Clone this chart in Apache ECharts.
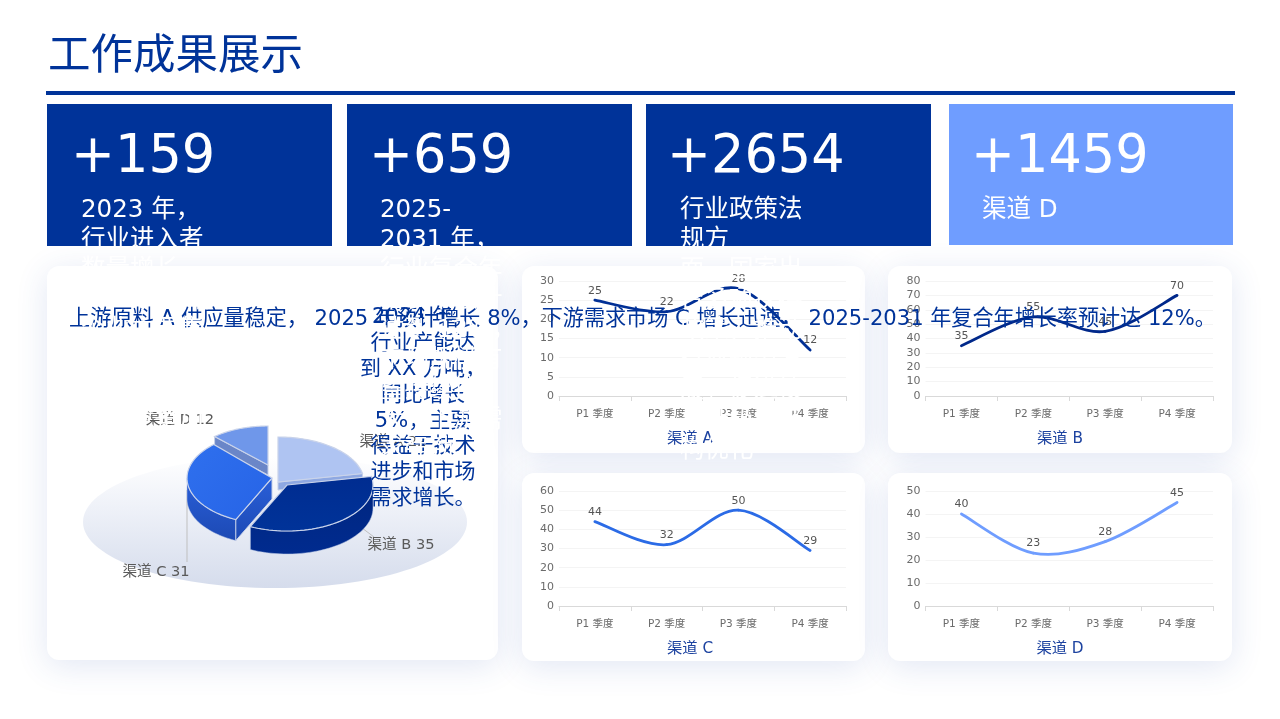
<!DOCTYPE html>
<html><head><meta charset="utf-8">
<script src="https://cdn.jsdelivr.net/npm/echarts@6/dist/echarts.min.js"></script>
<style>html,body{margin:0;padding:0;background:#fff}#c{width:1280px;height:719px}</style>
</head><body><div id="c"></div>
<script>
var FONT='"DejaVu Sans","Noto Sans CJK SC",sans-serif';
var quarters=['P1 季度','P2 季度','P3 季度','P4 季度'];
var channelNames=['渠道 A','渠道 B','渠道 C','渠道 D'];
var valuesA=[25,22,28,12];
var valuesB=[35,55,45,70];
var valuesC=[44,32,50,29];
var valuesD=[40,23,28,45];
var pieValues=[22,35,31,12];
var axisMax=[30,80,60,50];
var axisStep=[5,10,10,10];
var kpiNumbers=['+159','+659','+2654','+1459'];
var kpiText1=['2023 年，','行业进入者','数量增长','XX%，新增','企业主要集','中在华东和','华南地区，','市场竞争加','剧。'];
var kpiText2=['2025-','2031 年，','行业复合年','增长率预计','达到 12%，','市场规模有','望持续扩','大，下游需','求强劲。'];
var kpiText3=['行业政策法','规方','面，国家出','台多项扶持','政策，推动','行业规范发','展，促进技','术升级和产','构优化'];
var kpiText4=['渠道 D'];
var summaryWide='上游原料 A 供应量稳定， 2025 年预计增长 8%，下游需求市场 C 增长迅速， 2025-2031 年复合年增长率预计达 12%。';
var summaryLines=['2024 年，','行业产能达','到 XX 万吨，','同比增长','5%，主要','得益于技术','进步和市场','需求增长。'];

var BLUE='#003399', LIGHT='#6f9dff';
var lineColors=['#002f95','#00288a','#2b6be6','#6f9dff'];
var allValues=[valuesA,valuesB,valuesC,valuesD];
var gridBoxes=[[559,281,287,115],[925.5,281,287.5,115],[559,491,287,115],[925.5,491,287.5,115]];
var panels=[[47,266,451,394],[522,266,343,187],[888,266,344,187],[522,473,343,188],[888,473,344,188]];
var cards=[[47,104,285,142,BLUE],[347,104,285,142,BLUE],[646,104,285,142,BLUE],[949,104,284,141,LIGHT]];
var numX=[71,369,667,971], txtX=[81,380,680,982];
var kpiTexts=[kpiText1,kpiText2,kpiText3,kpiText4];
var chartTitleAt=[[690,439],[1060,439],[690,649],[1060,649]];

var g=[];
g.push({type:'rect',z:-1,shape:{x:46,y:91,width:1189,height:4},style:{fill:BLUE}});
panels.forEach(function(p){g.push({type:'rect',z:-1,shape:{x:p[0],y:p[1],width:p[2],height:p[3],r:12},
  style:{fill:'#fff',shadowBlur:32,shadowOffsetY:6,shadowColor:'rgba(50,85,175,0.14)'}});});
g.push({type:'ellipse',z:-1,shape:{cx:275,cy:522,rx:192,ry:66},style:{fill:{type:'linear',x:0,y:0,x2:0,y2:1,
  colorStops:[{offset:0,color:'#ffffff'},{offset:0.4,color:'#eef1f8'},{offset:1,color:'#d5dcec'}]}}});
g.push({type:'text',z:100,x:48,y:58,style:{text:'工作成果展示',font:'42.5px '+FONT,fill:BLUE,textVerticalAlign:'middle'}});
cards.forEach(function(c,i){
  g.push({type:'rect',z:1,shape:{x:c[0],y:c[1],width:c[2],height:c[3]},style:{fill:c[4]}});
  g.push({type:'text',z:101,x:numX[i],y:158,style:{text:kpiNumbers[i],font:'52.5px '+FONT,fill:'#fff',textVerticalAlign:'middle'}});
  kpiTexts[i].forEach(function(t,k){
    g.push({type:'text',z:101,x:txtX[i],y:211+k*30,style:{text:t,font:'24.5px '+FONT,fill:'#fff',textVerticalAlign:'middle'}});
  });
});
g.push({type:'text',z:100,x:642.5,y:320,style:{text:summaryWide,font:'21.1px '+FONT,fill:BLUE,textAlign:'center',textVerticalAlign:'middle'}});
summaryLines.forEach(function(t,k){
  g.push({type:'text',z:100,x:423,y:318+k*25.8,style:{text:t,font:'21px '+FONT,fill:BLUE,textAlign:'center',textVerticalAlign:'middle'}});
});
chartTitleAt.forEach(function(p,i){
  g.push({type:'text',z:20,x:p[0],y:p[1],style:{text:channelNames[i],font:'15.3px '+FONT,fill:'#1d43a0',textAlign:'center',textVerticalAlign:'middle'}});
});

// smooth curve through the values, positioned by the axes via api.coord
function curveItem(color,vals){
  return function(params,api){
    var n=vals.length, i=params.dataIndex, kids=[];
    var P=function(k){k=Math.max(0,Math.min(n-1,k));return api.coord([k,vals[k]]);};
    var here=P(i);
    if(i<n-1){
      var p0=P(i-1),p1=here,p2=P(i+1),p3=P(i+2);
      kids.push({type:'bezierCurve',shape:{x1:p1[0],y1:p1[1],x2:p2[0],y2:p2[1],
        cpx1:p1[0]+(p2[0]-p0[0])/6,cpy1:p1[1]+(p2[1]-p0[1])/6,
        cpx2:p2[0]-(p3[0]-p1[0])/6,cpy2:p2[1]-(p3[1]-p1[1])/6},
        style:{fill:null,stroke:color,lineWidth:2.8,lineCap:'round'}});
    }
    kids.push({type:'text',z2:5,x:here[0],y:here[1]-4,style:{text:String(api.value(1)),font:'11px '+FONT,fill:'#555',textAlign:'center',textVerticalAlign:'bottom'}});
    return {type:'group',children:kids};
  };
}

var grids=[],xAxes=[],yAxes=[],series=[];
allValues.forEach(function(vals,i){
  var b=gridBoxes[i];
  grids.push({left:b[0],top:b[1],width:b[2],height:b[3]});
  xAxes.push({type:'category',gridIndex:i,data:quarters,boundaryGap:true,
    axisLine:{lineStyle:{color:'#d9d9d9'}},axisTick:{show:true,length:5,lineStyle:{color:'#d9d9d9'}},
    axisLabel:{color:'#6b6b6b',fontSize:10.5,fontFamily:FONT,margin:13,interval:0}});
  yAxes.push({type:'value',gridIndex:i,min:0,max:axisMax[i],interval:axisStep[i],
    axisLine:{show:false},axisTick:{show:false},
    axisLabel:{color:'#6b6b6b',fontSize:11,fontFamily:FONT,margin:5},
    splitLine:{lineStyle:{color:'#f4f4f4'}}});
  series.push({type:'custom',xAxisIndex:i,yAxisIndex:i,silent:true,clip:false,z:4,
    data:vals.map(function(v,k){return [k,v];}),encode:{x:0,y:1},renderItem:curveItem(lineColors[i],vals)});
});

// exploded 3D pie: [cx, cy, rx, ry, depth]
var pieShape=[[278,482,86,45,8],[287,485,86,46,23],[272,478,85,46,21],[268,465,78,39,10]];
var pieOrder=[1,4,3,2];
var pieTop=['#afc4f2',{type:'linear',x:0,y:0,x2:0,y2:1,colorStops:[{offset:0,color:'#002c90'},{offset:1,color:'#003399'}]},
  {type:'linear',x:0,y:0,x2:1,y2:1,colorStops:[{offset:0,color:'#2f70ee'},{offset:1,color:'#2663e6'}]},'#6f97ea'];
var pieWall=['#8ea8e2',{type:'linear',x:0,y:0,x2:0,y2:1,colorStops:[{offset:0,color:'#00267f'},{offset:1,color:'#002b8f'}]},
  {type:'linear',x:0,y:0,x2:0,y2:1,colorStops:[{offset:0,color:'#2a5fd8'},{offset:1,color:'#1c49b4'}]},'#6a86c8'];
var pieCut=[[true,false],[false,false],[false,true],[false,true]]; // visible cut faces: [end, start]
var pieLabelAt=[[393,442],[401,545],[156,572],[180,420]];
var pieLeader=[null,[[362,528],[374,537]],[[187,490],[187,562]],null];

function pt(s,deg){var r=deg*Math.PI/180;return [s[0]+s[2]*Math.sin(r),s[1]-s[3]*Math.cos(r)];}
function down(p,d){return [p[0],p[1]+d];}
var pieTotal=pieValues.reduce(function(a,b){return a+b;},0);

series.push({type:'custom',coordinateSystem:'none',silent:true,z:3,data:pieValues,
  encode:{value:0},
  renderItem:function(params,api){
    var i=params.dataIndex, v=api.value(0);
    var sum=0; for(var k=0;k<i;k++) sum+=pieValues[k];
    var a0=sum/pieTotal*360, a1=(sum+v)/pieTotal*360;
    var s=pieShape[i], d=s[4], rank=pieOrder[i]*10, kids=[];
    var apex=[s[0],s[1]], top=[apex];
    for(var t=0;t<=48;t++){top.push(pt(s,a0+(a1-a0)*t/48));}
    var f0=Math.max(a0,90), f1=Math.min(a1,270);
    if(f1>f0){
      var up=[],lo=[];
      for(t=0;t<=40;t++){var p=pt(s,f0+(f1-f0)*t/40);up.push(p);lo.unshift(down(p,d));}
      kids.push({type:'polygon',z2:rank+1,shape:{points:up.concat(lo)},style:{fill:pieWall[i],stroke:'#b9c6e4',lineWidth:0.5}});
    }
    var cut=function(deg){var e=pt(s,deg);
      return {type:'polygon',z2:rank+2,shape:{points:[apex,e,down(e,d),down(apex,d)]},style:{fill:pieWall[i],stroke:'#c5d0e8',lineWidth:1}};};
    if(pieCut[i][0]) kids.push(cut(a1));
    if(pieCut[i][1]) kids.push(cut(a0));
    kids.push({type:'polygon',z2:rank+3,shape:{points:top},style:{fill:pieTop[i],stroke:'#c9d3ea',lineWidth:1.2}});
    if(pieLeader[i]) kids.push({type:'polyline',z2:5,shape:{points:pieLeader[i]},style:{fill:null,stroke:'#bfbfbf',lineWidth:1}});
    kids.push({type:'text',z2:90,x:pieLabelAt[i][0],y:pieLabelAt[i][1],
      style:{text:channelNames[i]+' '+v,font:'14.6px '+FONT,fill:'#595959',textAlign:'center',textVerticalAlign:'middle'}});
    return {type:'group',children:kids};
  }});

var chart=echarts.init(document.getElementById('c'),null,{renderer:'canvas'});
chart.setOption({animation:false,backgroundColor:'#fff',tooltip:{show:false},
  grid:grids,xAxis:xAxes,yAxis:yAxes,series:series,graphic:{elements:g}});
</script></body></html>
